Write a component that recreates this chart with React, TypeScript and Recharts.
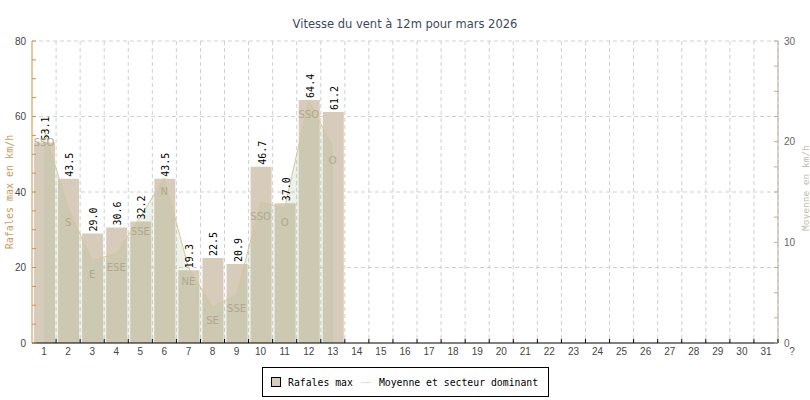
import React from "react";
import {
  ComposedChart,
  Bar,
  Area,
  XAxis,
  YAxis,
  CartesianGrid,
  LabelList,
  Legend,
} from "recharts";

// jours du mois
const days = [
  "1", "2", "3", "4", "5", "6", "7", "8", "9", "10",
  "11", "12", "13", "14", "15", "16", "17", "18", "19", "20",
  "21", "22", "23", "24", "25", "26", "27", "28", "29", "30", "31",
];

// rafales max (km/h), axe de gauche
const gusts = [53.1, 43.5, 29.0, 30.6, 32.2, 43.5, 19.3, 22.5, 20.9, 46.7, 37.0, 64.4, 61.2];

// vent moyen (km/h), axe de droite
const means = [21.3, 13.4, 8.2, 8.9, 12.5, 16.4, 7.5, 3.6, 4.8, 14.0, 13.4, 24.1, 19.5];

// secteur dominant
const sectors = ["SSO", "S", "E", "ESE", "SSE", "N", "NE", "SE", "SSE", "SSO", "O", "SSO", "O"];

const leftTicks = [0, 5, 10, 15, 20, 25, 30, 35, 40, 45, 50, 55, 60, 65, 70, 75, 80];
const rightTicks = [0, 2.5, 5, 7.5, 10, 12.5, 15, 17.5, 20, 22.5, 25, 27.5, 30];
const gridValues = [20, 40, 60, 80];

const data = days.map((day, i) => ({
  day,
  gust: gusts[i] ?? null,
  moy: means[i] ?? null,
  dir: sectors[i] ?? null,
}));

const W = 810;
const H = 400;
const PLOT_W = 746;
const TAN = "#d7cbbb";
const ORANGE = "#cc9248";
const TICK_FONT = "'Liberation Sans', Arial, sans-serif";
const MONO = "'DejaVu Sans Mono', monospace";

const LeftTick = (p: any) => {
  const { x, y, payload } = p;
  return (
    <g>
      <line x1={x + 6} x2={x + 10} y1={y} y2={y} stroke={ORANGE} />
      {payload.value % 20 === 0 && (
        <text x={x} y={y} dy={3.5} textAnchor="end" fontSize={10} fontFamily={TICK_FONT} fill="#444">
          {payload.value}
        </text>
      )}
    </g>
  );
};

const RightTick = (p: any) => {
  const { x, y, payload } = p;
  return (
    <g>
      <line x1={x - 6} x2={x - 10} y1={y} y2={y} stroke="#b8b0a0" />
      {payload.value % 10 === 0 && (
        <text x={x} y={y} dy={3.5} textAnchor="start" fontSize={10} fontFamily={TICK_FONT} fill="#666">
          {payload.value}
        </text>
      )}
    </g>
  );
};

const BottomTick = (p: any) => {
  const { x, y, payload } = p;
  const half = PLOT_W / days.length / 2;
  return (
    <g>
      <line x1={x + half} x2={x + half} y1={y - 4} y2={y - 8} stroke="#000" />
      <text x={x} y={y} dy={8} textAnchor="middle" fontSize={10} fontFamily={TICK_FONT} fill="#444">
        {payload.value}
      </text>
    </g>
  );
};

const GustLabel = (p: any) => {
  const { x, y, width, value } = p;
  if (value == null) return null;
  const cx = x + width / 2 + 1;
  const ty = y - 2;
  return (
    <text
      x={cx}
      y={ty}
      transform={`rotate(-90, ${cx}, ${ty})`}
      textAnchor="start"
      dominantBaseline="central"
      fontSize={10}
      fontFamily={MONO}
      fill="#000"
    >
      {Number(value).toFixed(1)}
    </text>
  );
};

const SectorLabel = (p: any) => {
  const { x, y, index } = p;
  const dir = data[index]?.dir;
  if (!dir || y == null) return null;
  return (
    <text x={x} y={y + 14} dy={3.5} textAnchor="middle" fontSize={10} fontFamily="'DejaVu Sans', sans-serif" fill="#b2a78e">
      {dir}
    </text>
  );
};

const LegendBox = () => (
  <div
    style={{
      boxSizing: "border-box",
      width: 287,
      height: 30,
      border: "1px solid #000",
      background: "#fff",
      display: "flex",
      alignItems: "center",
      paddingLeft: 8,
      fontFamily: MONO,
      fontSize: 9.8,
      color: "#000",
    }}
  >
    <span style={{ width: 10, height: 10, boxSizing: "border-box", border: "1px solid #000", background: TAN }} />
    <span style={{ marginLeft: 7 }}>Rafales max</span>
    <span style={{ width: 10, height: 1, background: "#e6dcc2", margin: "0 8px" }} />
    <span>Moyenne et secteur dominant</span>
  </div>
);

export default function App() {
  return (
    <div style={{ position: "absolute", left: 0, top: 0, width: W, height: H, background: "#fff" }}>
      <div
        style={{
          position: "absolute",
          left: 0,
          top: 19,
          width: W,
          textAlign: "center",
          fontFamily: "'DejaVu Sans', sans-serif",
          fontSize: 11.5,
          lineHeight: "11.5px",
          color: "#3d4761",
        }}
      >
        Vitesse du vent à 12m pour mars 2026
      </div>
      <ComposedChart
        width={W}
        height={H}
        data={data}
        margin={{ top: 41, right: 0, bottom: 37, left: 0 }}
        barCategoryGap={0}
      >
        <CartesianGrid
          stroke="#d0d0d0"
          strokeDasharray="4 3"
          horizontalCoordinatesGenerator={({ offset }: any) =>
            gridValues.map((v) => offset.top + offset.height * (1 - v / 80))
          }
          verticalCoordinatesGenerator={({ offset }: any) =>
            days.map((_, i) => offset.left + ((i + 1) * offset.width) / days.length)
          }
        />
        <XAxis
          dataKey="day"
          interval={0}
          height={20}
          axisLine={{ stroke: "#000" }}
          tickLine={false}
          tickSize={0}
          tickMargin={4}
          tick={<BottomTick />}
          label={{
            content: ({ viewBox }: any) => (
              <text
                x={viewBox.x + viewBox.width + 14}
                y={viewBox.y + 12}
                textAnchor="middle"
                fontSize={10}
                fontFamily={TICK_FONT}
                fill="#555"
              >
                ?
              </text>
            ),
          }}
        />
        <YAxis
          yAxisId="left"
          width={32}
          domain={[0, 80]}
          ticks={leftTicks}
          interval={0}
          axisLine={{ stroke: ORANGE }}
          tickLine={false}
          tickSize={0}
          tickMargin={6}
          tick={<LeftTick />}
          label={{
            content: ({ viewBox }: any) => {
              const cx = viewBox.x + 9;
              const cy = viewBox.y + viewBox.height / 2;
              return (
                <text
                  x={cx}
                  y={cy}
                  transform={`rotate(-90, ${cx}, ${cy})`}
                  textAnchor="middle"
                  dominantBaseline="central"
                  fontSize={10}
                  fontFamily={MONO}
                  fill="#c99a60"
                >
                  Rafales max en km/h
                </text>
              );
            },
          }}
        />
        <YAxis
          yAxisId="right"
          orientation="right"
          width={32}
          domain={[0, 30]}
          ticks={rightTicks}
          interval={0}
          axisLine={{ stroke: "#b8b0a0" }}
          tickLine={false}
          tickSize={0}
          tickMargin={6}
          tick={<RightTick />}
          label={{
            content: ({ viewBox }: any) => {
              const cx = viewBox.x + 27;
              const cy = viewBox.y + viewBox.height / 2 - 4;
              return (
                <text
                  x={cx}
                  y={cy}
                  transform={`rotate(-90, ${cx}, ${cy})`}
                  textAnchor="middle"
                  dominantBaseline="central"
                  fontSize={9.5}
                  fontFamily={MONO}
                  fill="#c4bcac"
                >
                  Moyenne en km/h
                </text>
              );
            },
          }}
        />
        <Bar yAxisId="left" dataKey="gust" fill={TAN} barSize={21} isAnimationActive={false}>
          <LabelList dataKey="gust" content={<GustLabel />} />
        </Bar>
        <Area
          yAxisId="right"
          type="linear"
          dataKey="moy"
          stroke="#d8c69c"
          strokeWidth={1}
          fill="#a0be91"
          fillOpacity={0.2}
          dot={false}
          activeDot={false}
          isAnimationActive={false}
          {...({ zIndex: 350 } as any)}
        >
          <LabelList dataKey="moy" content={<SectorLabel />} />
        </Area>
        <Legend
          layout="vertical"
          align="center"
          verticalAlign="middle"
          wrapperStyle={{ left: 262, top: 367, width: 287, height: 30 }}
          content={() => <LegendBox />}
        />
      </ComposedChart>
    </div>
  );
}
